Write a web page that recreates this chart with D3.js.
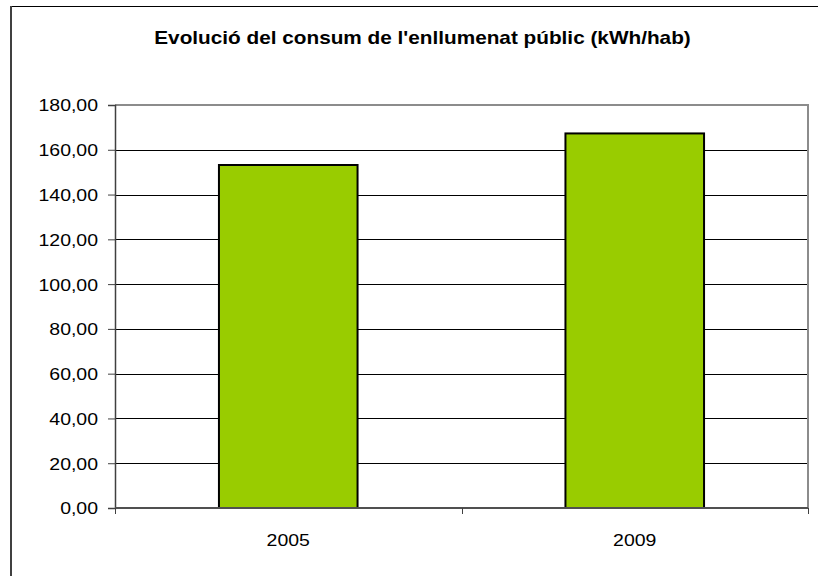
<!DOCTYPE html>
<html>
<head>
<meta charset="utf-8">
<script src="https://cdn.jsdelivr.net/npm/d3@7"></script>
<style>
  html, body { margin: 0; padding: 0; background: #fff; }
  svg { display: block; }
  text { font-family: "Liberation Sans", Arial, sans-serif; fill: #000; }
</style>
</head>
<body>
<svg id="chart" width="818" height="576"></svg>
<script>
const title = "Evolució del consum de l'enllumenat públic (kWh/hab)";
const categories = ["2005", "2009"];
const values = [153.2, 167.3];
const yTicks = [0, 20, 40, 60, 80, 100, 120, 140, 160, 180];

const W = 818, H = 576;
const m = { left: 115, right: 808, top: 105, bottom: 508 };
const sx = 1.18; // horizontal stretch of the text in the reference

const svg = d3.select("#chart");

// outer chart frame (only top and left edges visible)
svg.append("line").attr("x1", 11).attr("x2", W).attr("y1", 6.5).attr("y2", 6.5)
  .attr("stroke", "#000").attr("stroke-width", 1);
svg.append("line").attr("x1", 11).attr("x2", 11).attr("y1", 6).attr("y2", H)
  .attr("stroke", "#404040").attr("stroke-width", 2);

// title
svg.append("text")
  .attr("transform", `translate(422.5,43.5) scale(${sx},1)`)
  .attr("text-anchor", "middle")
  .attr("font-size", 17.6)
  .attr("font-weight", "bold")
  .text(title);

const x = d3.scaleBand().domain(categories).range([m.left, m.right])
  .paddingInner(0.6).paddingOuter(0.3);
const y = d3.scaleLinear().domain([0, 180]).range([m.bottom, m.top]);

// gridlines
svg.append("g").selectAll("line").data(yTicks.filter(t => t > 0 && t < 180)).join("line")
  .attr("x1", m.left).attr("x2", m.right)
  .attr("y1", d => Math.round(y(d)) + 0.5).attr("y2", d => Math.round(y(d)) + 0.5)
  .attr("stroke", "#000").attr("stroke-width", 1);

// plot frame top and right
svg.append("path")
  .attr("d", `M${m.left},${m.top} H${m.right} V${m.bottom}`)
  .attr("fill", "none").attr("stroke", "#8c8c8c").attr("stroke-width", 2);

// bars
svg.append("g").selectAll("rect").data(categories).join("rect")
  .attr("x", d => x(d))
  .attr("y", (d, i) => y(values[i]))
  .attr("width", x.bandwidth())
  .attr("height", (d, i) => y(0) - y(values[i]))
  .attr("fill", "#99cc00")
  .attr("stroke", "#000").attr("stroke-width", 2);

// y axis
const fmt = v => d3.format(".2f")(v).replace(".", ",");
const yAxis = svg.append("g").attr("transform", `translate(${m.left},0)`)
  .call(d3.axisLeft(y).tickValues(yTicks).tickSize(7).tickPadding(10).tickFormat(fmt));
yAxis.select(".domain").attr("stroke", "#404040").attr("stroke-width", 1.5);
yAxis.selectAll(".tick line").attr("stroke", "#404040");
yAxis.selectAll(".tick text")
  .attr("font-size", 16.5)
  .attr("font-family", "Liberation Sans, Arial, sans-serif")
  .attr("fill", "#000")
  .attr("x", -17 / sx)
  .attr("dy", "0.36em")
  .attr("transform", `scale(${sx},1)`);

// x axis (ticks at category boundaries)
const gap = (x.step() - x.bandwidth()) / 2;
const bounds = categories.map(c => x(c) - gap).concat([x(categories[categories.length - 1]) + x.bandwidth() + gap]);
svg.append("line").attr("x1", m.left).attr("x2", m.right)
  .attr("y1", m.bottom).attr("y2", m.bottom)
  .attr("stroke", "#505050").attr("stroke-width", 2);
svg.append("g").selectAll("line").data(bounds).join("line")
  .attr("x1", d => Math.round(d) + 0.5).attr("x2", d => Math.round(d) + 0.5)
  .attr("y1", m.bottom).attr("y2", m.bottom + 6)
  .attr("stroke", "#404040").attr("stroke-width", 1);
svg.append("g").selectAll("text").data(categories).join("text")
  .attr("transform", d => `translate(${x(d) + x.bandwidth() / 2},546) scale(${sx},1)`)
  .attr("text-anchor", "middle")
  .attr("font-size", 16.5)
  .text(d => d);
</script>
</body>
</html>
